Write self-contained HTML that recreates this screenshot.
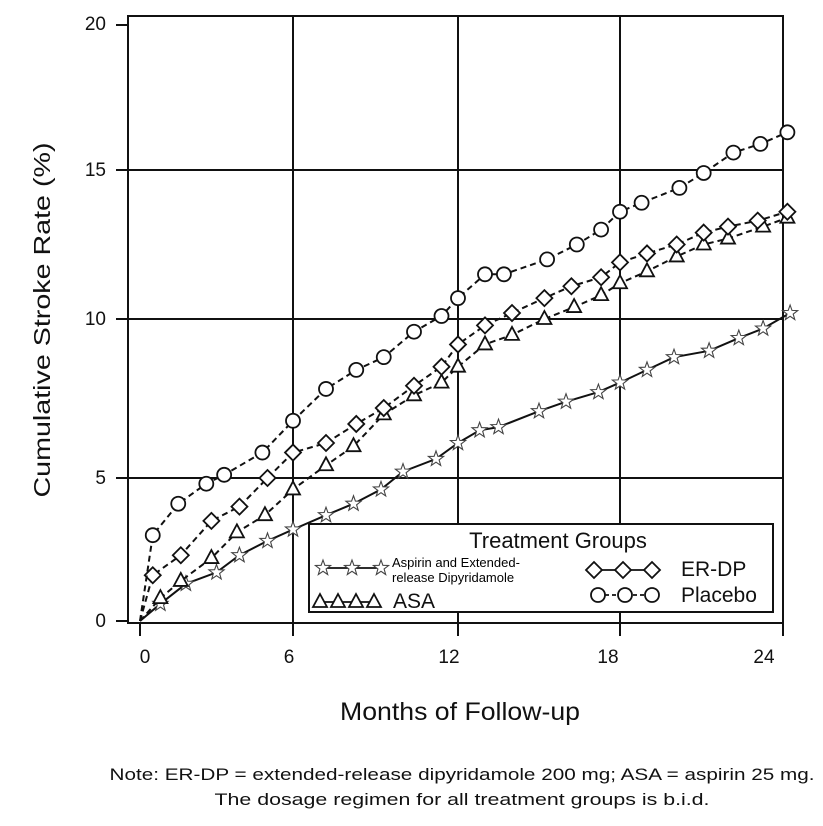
<!DOCTYPE html>
<html><head><meta charset="utf-8"><style>
html,body{margin:0;padding:0;background:#fff;}
svg{display:block;font-family:"Liberation Sans",sans-serif;}
</style></head><body>
<svg id="s" width="823" height="826" viewBox="0 0 823 826" xmlns="http://www.w3.org/2000/svg">
<rect width="823" height="826" fill="#fff"/>
<g stroke="#111" stroke-width="2" fill="none">
<rect x="128" y="16" width="655" height="607"/>
<line x1="293" y1="16" x2="293" y2="623"/>
<line x1="458" y1="16" x2="458" y2="623"/>
<line x1="620" y1="16" x2="620" y2="623"/>
<line x1="128" y1="170" x2="783" y2="170"/>
<line x1="128" y1="319" x2="783" y2="319"/>
<line x1="128" y1="478" x2="783" y2="478"/>
<line x1="116" y1="25" x2="128" y2="25"/>
<line x1="116" y1="170" x2="128" y2="170"/>
<line x1="116" y1="319" x2="128" y2="319"/>
<line x1="116" y1="478" x2="128" y2="478"/>
<line x1="116" y1="621" x2="128" y2="621"/>
<line x1="140" y1="623" x2="140" y2="636"/>
<line x1="293" y1="623" x2="293" y2="636"/>
<line x1="458" y1="623" x2="458" y2="636"/>
<line x1="620" y1="623" x2="620" y2="636"/>
<line x1="783" y1="623" x2="783" y2="636"/>
</g>
<g font-size="19" fill="#111" text-anchor="end">
<text x="106" y="30">20</text><text x="106" y="176">15</text><text x="106" y="325">10</text><text x="106" y="484">5</text><text x="106" y="627">0</text>
</g>
<g font-size="19" fill="#111" text-anchor="middle">
<text x="145" y="663">0</text><text x="289" y="663">6</text><text x="449" y="663">12</text><text x="608" y="663">18</text><text x="764" y="663">24</text>
</g>
<text transform="translate(50,320) rotate(-90)" font-size="23" fill="#111" text-anchor="middle" textLength="355" lengthAdjust="spacingAndGlyphs">Cumulative Stroke Rate (%)</text>
<text x="460" y="720" font-size="25" fill="#111" text-anchor="middle" textLength="240" lengthAdjust="spacingAndGlyphs">Months of Follow-up</text>
<text x="462" y="780" font-size="17" fill="#111" text-anchor="middle" textLength="705" lengthAdjust="spacingAndGlyphs">Note: ER-DP = extended-release dipyridamole 200 mg; ASA = aspirin 25 mg.</text>
<text x="462" y="805" font-size="17" fill="#111" text-anchor="middle" textLength="495" lengthAdjust="spacingAndGlyphs">The dosage regimen for all treatment groups is b.i.d.</text>
<g id="series"></g>
<g id="leg">
<rect x="309" y="524" width="464" height="88" fill="#fff" stroke="#111" stroke-width="2"/>
<text x="558" y="548" font-size="22" fill="#111" text-anchor="middle">Treatment Groups</text>
<text x="392" y="567" font-size="13" fill="#000">Aspirin and Extended-</text>
<text x="392" y="582" font-size="13" fill="#000">release Dipyridamole</text>
<text x="393" y="608" font-size="21" fill="#111">ASA</text>
<text x="681" y="576" font-size="21" fill="#111">ER-DP</text>
<text x="681" y="602" font-size="21" fill="#111">Placebo</text>
</g>
</svg>
<script>
var xs=[[0,140],[6,293],[12,458],[18,620],[24,782]];
var ys=[[0,621],[5,478],[10,319],[15,170],[20,25]];
function interp(t,v){for(var i=0;i<t.length-1;i++){if(v<=t[i+1][0]||i==t.length-2){var a=t[i],b=t[i+1];return a[1]+(v-a[0])*(b[1]-a[1])/(b[0]-a[0]);}}}
function X(m){return interp(xs,m);}function Y(v){return interp(ys,v);}
var ns="http://www.w3.org/2000/svg";
function el(n,at,p){var e=document.createElementNS(ns,n);for(var k in at)e.setAttribute(k,at[k]);p.appendChild(e);return e;}
function marker(type,x,y,p){
 var st={fill:"#fff",stroke:"#111","stroke-width":1.8};
 if(type=="c"){st.cx=x;st.cy=y;st.r=7;el("circle",st,p);}
 else if(type=="d"){st.points=[x,y-8,x+8,y,x,y+8,x-8,y].join(" ");el("polygon",st,p);}
 else if(type=="t"){st.points=[x,y-8,x+7,y+5,x-7,y+5].join(" ");el("polygon",st,p);}
 else{var pts=[];for(var i=0;i<10;i++){var r=i%2?3.3:8,a=-Math.PI/2+i*Math.PI/5;pts.push((x+r*Math.cos(a)).toFixed(1)+","+(y+r*Math.sin(a)).toFixed(1));}
 st["stroke-width"]=1.1;st.stroke="#444";st.points=pts.join(" ");el("polygon",st,p);}
}
var data={
c:[[0,0],[0.5,3.0],[1.5,4.1],[2.6,4.8],[3.3,5.1],[4.8,5.8],[6,6.8],[7.2,7.8],[8.3,8.4],[9.3,8.8],[10.4,9.6],[11.4,10.1],[12,10.7],[13,11.5],[13.7,11.5],[15.3,12.0],[16.4,12.5],[17.3,13.0],[18,13.6],[18.8,13.9],[20.2,14.4],[21.1,14.9],[22.2,15.6],[23.2,15.9],[24.2,16.3]],
d:[[0,0],[0.5,1.6],[1.6,2.3],[2.8,3.5],[3.9,4.0],[5,5.0],[6,5.8],[7.2,6.1],[8.3,6.7],[9.3,7.2],[10.4,7.9],[11.4,8.5],[12,9.2],[13,9.8],[14,10.2],[15.2,10.7],[16.2,11.1],[17.3,11.4],[18,11.9],[19,12.2],[20.1,12.5],[21.1,12.9],[22,13.1],[23.1,13.3],[24.2,13.6]],
t:[[0,0],[0.8,0.8],[1.6,1.4],[2.8,2.2],[3.8,3.1],[4.9,3.7],[6,4.6],[7.2,5.4],[8.2,6.0],[9.3,7.0],[10.4,7.6],[11.4,8.0],[12,8.5],[13,9.2],[14,9.5],[15.2,10.0],[16.3,10.4],[17.3,10.8],[18,11.2],[19,11.6],[20.1,12.1],[21.1,12.5],[22,12.7],[23.3,13.1],[24.2,13.4]],
s:[[0,0],[0.8,0.6],[1.8,1.3],[3,1.7],[3.9,2.3],[5,2.8],[6,3.2],[7.2,3.7],[8.2,4.1],[9.2,4.6],[10,5.2],[11.2,5.6],[12,6.1],[12.8,6.5],[13.5,6.6],[15,7.1],[16,7.4],[17.2,7.7],[18,8.0],[19,8.4],[20,8.8],[21.3,9.0],[22.4,9.4],[23.3,9.7],[24.3,10.2]]};
var g=document.getElementById("series");
["s","t","d","c"].forEach(function(k){
 var pts=data[k].map(function(p){return X(p[0]).toFixed(1)+","+Y(p[1]).toFixed(1);}).join(" ");
 var a={points:pts,fill:"none",stroke:"#111","stroke-width":2};
 if(k!="s")a["stroke-dasharray"]="6,4";
 el("polyline",a,g);
 data[k].forEach(function(p,i){if(i>0)marker(k,X(p[0]),Y(p[1]),g);});
});
var L=document.getElementById("leg");
function legRow(k,x0,y,n,dx,dash){el("line",{x1:x0,y1:y,x2:x0+dx*(n-1),y2:y,stroke:"#111","stroke-width":1.8,"stroke-dasharray":dash||"none"},L);for(var i=0;i<n;i++)marker(k,x0+dx*i,y,L);}
legRow("s",323,568,3,29);
legRow("t",320,602,4,18);
legRow("d",594,570,3,29);
legRow("c",598,595,3,27,"4,3");
</script>
</body></html>
